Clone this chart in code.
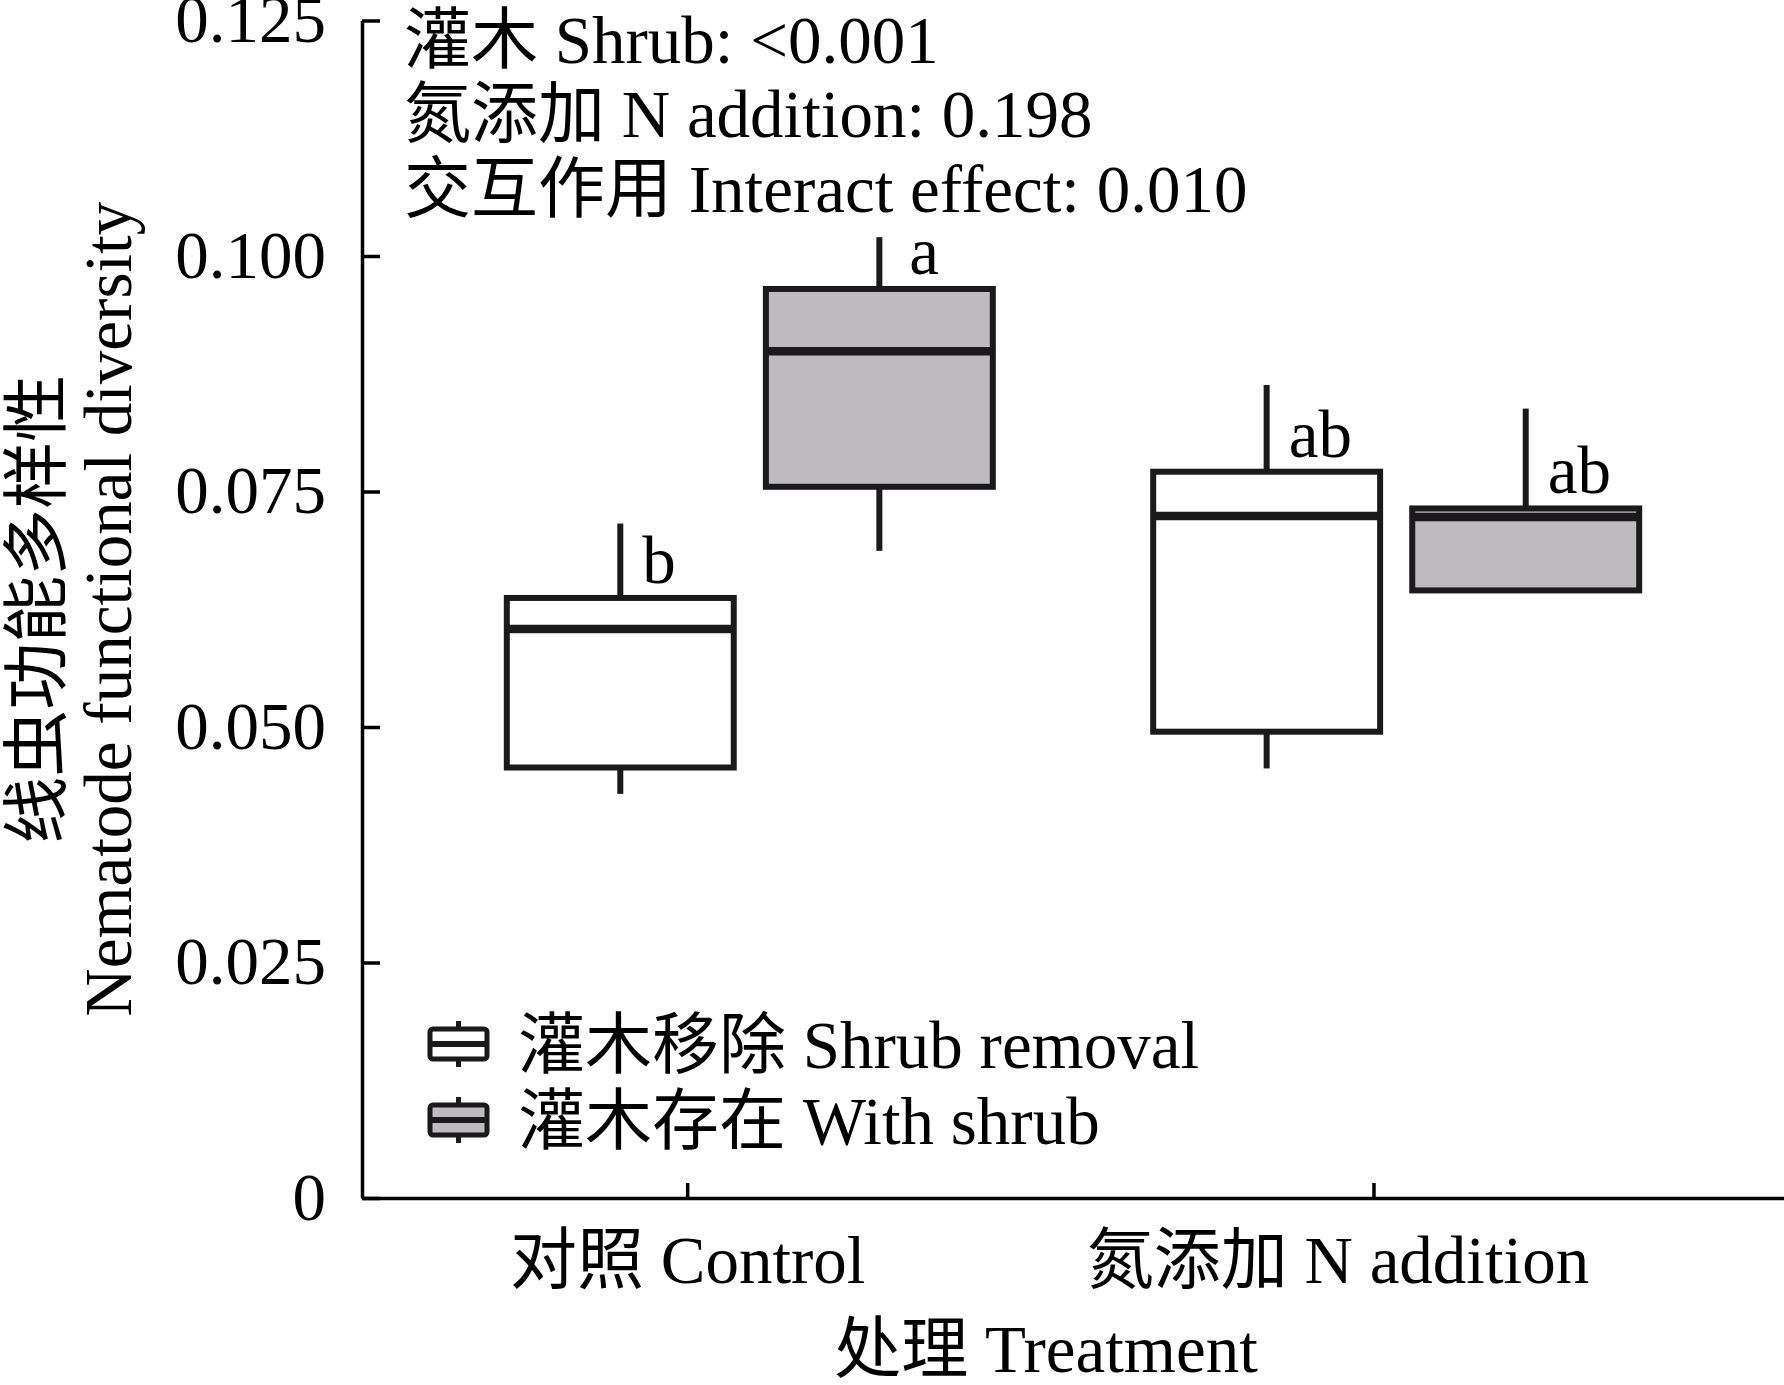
<!DOCTYPE html>
<html>
<head>
<meta charset="utf-8">
<script src="https://cdn.jsdelivr.net/npm/d3@7"></script>
<style>
  body { margin: 0; background: #fff; }
  svg { display: block; }
  text { font-family: "Liberation Serif", "Noto Sans CJK SC", serif; fill: #000; }
</style>
</head>
<body>
<div id="chart-container"></div>
<script>
// categories and series
const groups = ["对照 Control", "氮添加 N addition"];
const series = ["灌木移除 Shrub removal", "灌木存在 With shrub"];

// box stats, order: Control/removal, Control/shrub, N/removal, N/shrub
const whiskerLow = [0.0429, 0.0687, 0.0456, 0.0645];
const q1 = [0.0457, 0.0755, 0.0495, 0.0645];
const median = [0.0604, 0.0899, 0.0724, 0.0723];
const q3 = [0.0637, 0.0965, 0.0771, 0.0732];
const whiskerHigh = [0.0716, 0.1020, 0.0863, 0.0838];
const letters = ["b", "a", "ab", "ab"];

const yTicks = [0, 0.025, 0.05, 0.075, 0.1, 0.125];
const statLines = [
  "灌木 Shrub: <0.001",
  "氮添加 N addition: 0.198",
  "交互作用 Interact effect: 0.010"
];

const width = 1784;
const height = 1385;
const margins = { top: 20.5, right: 0, bottom: 187, left: 362 };
const chartWidth = width - margins.left - margins.right;
const chartHeight = height - margins.top - margins.bottom;
const fontSize = 67;
const ink = "#1a1a1a";
const fills = ["#ffffff", "#bdbbbe"];

const yScale = d3
  .scaleLinear()
  .domain([0, 0.125])
  .range([chartHeight, 0]);

// tick positions of the treatment axis
const xTick = d3
  .scalePoint()
  .domain(groups)
  .range([0, chartWidth])
  .padding(0.536)
  .align(0.442);

// group centres for the boxes
const xGroup = d3
  .scalePoint()
  .domain(groups)
  .range([0, chartWidth])
  .padding(0.6);

const xSub = d3
  .scaleBand()
  .domain(series)
  .range([-243, 243])
  .paddingInner(0.124);

const boxes = d3.cross(groups, series).map(([g, s], i) => ({
  group: g,
  series: s,
  si: series.indexOf(s),
  low: whiskerLow[i],
  q1: q1[i],
  median: median[i],
  q3: q3[i],
  high: whiskerHigh[i],
  letter: letters[i]
}));

const svg = d3
  .select("#chart-container")
  .append("svg")
  .attr("width", width)
  .attr("height", height);

const chart = svg
  .append("g")
  .attr("transform", `translate(${margins.left}, ${margins.top})`);

// axes
const yAxis = d3
  .axisLeft(yScale)
  .tickValues(yTicks)
  .tickFormat(d => (d === 0 ? "0" : d3.format(".3f")(d)))
  .tickSize(-18)
  .tickSizeOuter(0)
  .tickPadding(36);

const yAxisG = chart.append("g").call(yAxis);

const xAxis = d3
  .axisBottom(xTick)
  .tickSize(-15)
  .tickSizeOuter(0);

const xAxisG = chart
  .append("g")
  .attr("transform", `translate(0, ${chartHeight})`)
  .call(xAxis);

[yAxisG, xAxisG].forEach(g => {
  g.select(".domain").attr("stroke", "#000").attr("stroke-width", 3.5);
  g.selectAll(".tick line").attr("stroke", "#000").attr("stroke-width", 3.5);
  g.selectAll(".tick text")
    .attr("font-size", fontSize)
    .attr("font-family", '"Liberation Serif", "Noto Sans CJK SC", serif')
    .attr("fill", "#000");
});

xAxisG
  .selectAll(".tick text")
  .attr("y", 85)
  .attr("dy", 0)
  .attr("dx", (d, i) => (i === 1 ? -36 : 0));

// boxes
const boxG = chart
  .selectAll(".box")
  .data(boxes)
  .enter()
  .append("g")
  .attr("class", "box")
  .attr("transform", d => `translate(${xGroup(d.group) + xSub(d.series)}, 0)`);

const bw = xSub.bandwidth();

boxG
  .append("line")
  .attr("x1", bw / 2)
  .attr("x2", bw / 2)
  .attr("y1", d => yScale(d.high))
  .attr("y2", d => yScale(d.q3))
  .attr("stroke", ink)
  .attr("stroke-width", 6);

boxG
  .append("line")
  .attr("x1", bw / 2)
  .attr("x2", bw / 2)
  .attr("y1", d => yScale(d.q1))
  .attr("y2", d => yScale(d.low))
  .attr("stroke", ink)
  .attr("stroke-width", 6);

boxG
  .append("rect")
  .attr("x", 0)
  .attr("width", bw)
  .attr("y", d => yScale(d.q3))
  .attr("height", d => yScale(d.q1) - yScale(d.q3))
  .attr("fill", d => fills[d.si])
  .attr("stroke", ink)
  .attr("stroke-width", 6);

boxG
  .append("line")
  .attr("x1", 0)
  .attr("x2", bw)
  .attr("y1", d => yScale(d.median))
  .attr("y2", d => yScale(d.median))
  .attr("stroke", ink)
  .attr("stroke-width", 8.5);

boxG
  .append("text")
  .text(d => d.letter)
  .attr("x", d => bw / 2 + (d.letter === "a" ? 30 : 22))
  .attr("y", d => yScale(d.q3) - 15)
  .attr("font-size", fontSize);

// significance notes
svg
  .selectAll(".stat")
  .data(statLines)
  .enter()
  .append("text")
  .attr("class", "stat")
  .text(d => d)
  .attr("x", 404)
  .attr("y", (d, i) => 62.5 + i * 74.5)
  .attr("font-size", fontSize);

// legend
const legend = svg
  .selectAll(".legend")
  .data(series)
  .enter()
  .append("g")
  .attr("class", "legend")
  .attr("transform", (d, i) => `translate(458.5, ${1044 + i * 76})`);

legend
  .append("line")
  .attr("y1", -23)
  .attr("y2", 23)
  .attr("stroke", ink)
  .attr("stroke-width", 5);

legend
  .append("rect")
  .attr("x", -28.5)
  .attr("y", -15)
  .attr("width", 57)
  .attr("height", 30)
  .attr("rx", 3)
  .attr("fill", (d, i) => fills[i])
  .attr("stroke", ink)
  .attr("stroke-width", 5);

legend
  .append("line")
  .attr("x1", -28.5)
  .attr("x2", 28.5)
  .attr("stroke", ink)
  .attr("stroke-width", 6);

legend
  .append("text")
  .text(d => d)
  .attr("x", 59.5)
  .attr("y", 24)
  .attr("font-size", fontSize);

// axis titles
svg
  .append("text")
  .text("处理 Treatment")
  .attr("x", margins.left + chartWidth / 2 - 27)
  .attr("y", 1372)
  .attr("text-anchor", "middle")
  .attr("font-size", fontSize);

const yTitle = svg
  .append("g")
  .attr("transform", `translate(0, ${margins.top + chartHeight / 2}) rotate(-90)`);

yTitle
  .append("text")
  .text("线虫功能多样性")
  .attr("x", 0)
  .attr("y", 60)
  .attr("text-anchor", "middle")
  .attr("font-size", fontSize);

yTitle
  .append("text")
  .text("Nematode functional diversity")
  .attr("x", 0)
  .attr("y", 131)
  .attr("text-anchor", "middle")
  .attr("font-size", fontSize);
</script>
</body>
</html>
